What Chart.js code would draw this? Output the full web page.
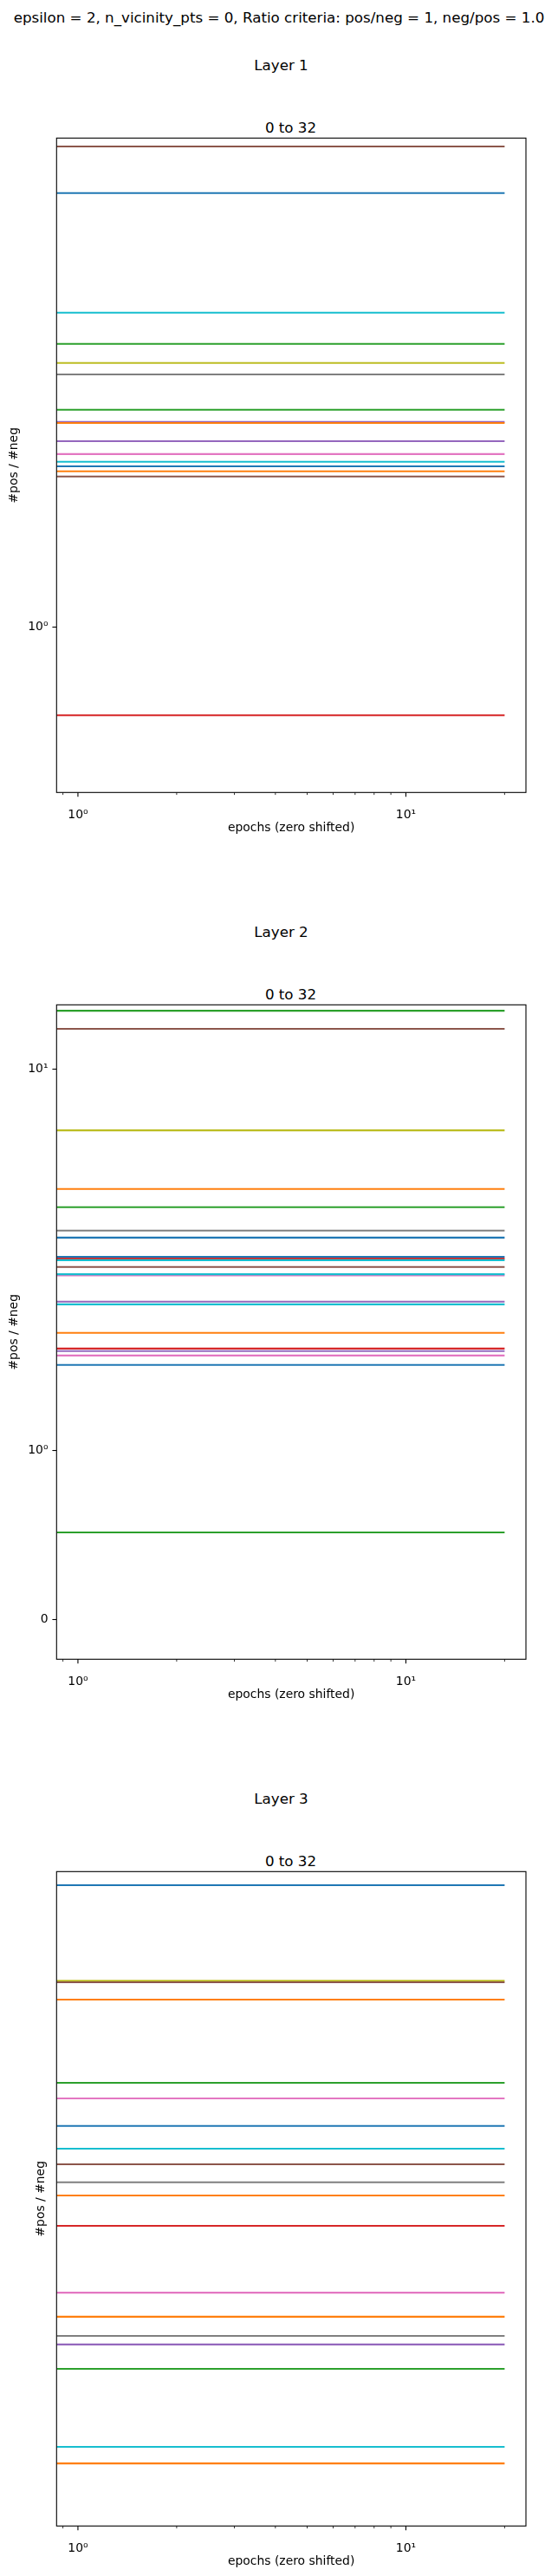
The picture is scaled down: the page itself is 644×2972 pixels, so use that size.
<!DOCTYPE html>
<html>
<head>
<meta charset="utf-8">
<title>pos/neg ratio per layer</title>
<script src="https://cdn.jsdelivr.net/npm/chart.js@4.4.1/dist/chart.umd.min.js"></script>
<style>
  body { margin: 0; background: #fff; }
  #page { position: relative; width: 644px; height: 2972px; font-family: 'DejaVu Sans', sans-serif; color: #000; overflow: hidden; }
  .txt { position: absolute; text-align: center; font-size: 16.7px; line-height: 20px; white-space: nowrap; }
  canvas { position: absolute; left: 0; }
</style>
</head>
<body>
<div id="page">
  <div class="txt" style="left:0;width:644px;top:10px">epsilon = 2, n_vicinity_pts = 0, Ratio criteria: pos/neg = 1, neg/pos = 1.0</div>
</div>
<script>
// every ratio stays flat over training, so a line runs from the first to the last epoch
const epochSpan = [0, 20];

const layerNames = ['Layer 1', 'Layer 2', 'Layer 3'];
const rangeName = '0 to 32';

const layer1Ratios = [5.72, 4.564, 2.556, 2.197, 2.003, 1.958, 1.824, 1.778, 1.774, 1.705,
                      1.656, 1.627, 1.610, 1.591, 1.571, 0.6667];
const layer2Ratios = [15.60, 13.59, 6.30, 4.04, 3.52, 2.947, 2.795, 2.414, 2.382, 2.356,
                      2.236, 2.099, 2.117, 1.882, 1.866, 1.697, 1.604, 1.589, 1.563, 1.507, 0.515];
const layer3Ratios = [8.812, 5.926, 5.890, 5.481, 3.880, 3.637, 3.245, 2.952, 2.767, 2.568,
                      2.431, 2.143, 1.837, 1.759, 1.697, 1.669, 1.590, 1.337, 1.283];

// axis limits of each panel (symlog y)
const layerYMin = [0.3742, -0.2365, 1.08];
const layerYMax = [5.957, 16.31, 9.325];

const xTickValues = [0.9, 1, 2, 3, 4, 5, 6, 7, 8, 9, 10, 20];
const xTickLabels = ['', '10\u2070', '', '', '', '', '', '', '', '', '10\u00b9', ''];
const yTickValues = [0, 1, 10];
const yTickLabels = ['0', '10\u2070', '10\u00b9'];

// matplotlib tab10
const BLUE = '#1f77b4', ORANGE = '#ff7f0e', GREEN = '#2ca02c', RED = '#d62728', PURPLE = '#9467bd',
      BROWN = '#8c564b', PINK = '#e377c2', GRAY = '#7f7f7f', OLIVE = '#bcbd22', CYAN = '#17becf';

const layer1Colors = [BROWN, BLUE, CYAN, GREEN, OLIVE, GRAY, GREEN, PURPLE, ORANGE, PURPLE,
                      PINK, CYAN, BLUE, ORANGE, BROWN, RED];
const layer2Colors = [GREEN, BROWN, OLIVE, ORANGE, GREEN, GRAY, BLUE, BLUE, RED, CYAN,
                      BROWN, PINK, CYAN, PURPLE, CYAN, ORANGE, RED, PURPLE, PINK, BLUE, GREEN];
const layer3Colors = [BLUE, OLIVE, BROWN, ORANGE, GREEN, PINK, BLUE, CYAN, BROWN, GRAY,
                      ORANGE, RED, PINK, ORANGE, GRAY, PURPLE, GREEN, CYAN, ORANGE];

const layerRatios = [layer1Ratios, layer2Ratios, layer3Ratios];
const layerColors = [layer1Colors, layer2Colors, layer3Colors];

// symlog like matplotlib: linthresh 2, linscale 1, base 10
const LINTHRESH = 2;
const LINSCALE = 1 / (1 - 1 / 10);

function symlog(v) {
    const a = Math.abs(v);
    if (a <= LINTHRESH) return v * LINSCALE;
    return Math.sign(v) * LINTHRESH * (LINSCALE + Math.log10(a / LINTHRESH));
}

function symexp(t) {
    const a = Math.abs(t);
    if (a <= LINTHRESH * LINSCALE) return t / LINSCALE;
    return Math.sign(t) * LINTHRESH * Math.pow(10, a / LINTHRESH - LINSCALE);
}

class SymlogScale extends Chart.LinearScale {
    buildTicks() {
        return yTickValues.filter(v => v >= this.min && v <= this.max).map(v => ({ value: v }));
    }
    configure() {
        super.configure();
        this._tStart = symlog(this.min);
        this._tRange = symlog(this.max) - this._tStart;
    }
    getPixelForValue(value) {
        return this.getPixelForDecimal((symlog(value) - this._tStart) / this._tRange);
    }
    getValueForPixel(pixel) {
        return symexp(this._tStart + this.getDecimalForPixel(pixel) * this._tRange);
    }
}
SymlogScale.id = 'symlog';
SymlogScale.defaults = Chart.LinearScale.defaults;
Chart.register(SymlogScale);

// axes box + log x tick marks (major / minor)
const framePlugin = {
    id: 'frame',
    afterDraw(chart) {
        const { ctx, chartArea: a, scales: { x } } = chart;
        ctx.save();
        ctx.strokeStyle = '#000';
        x.ticks.forEach(t => {
            const px = x.getPixelForValue(t.value);
            ctx.lineWidth = t.major ? 1.1 : 0.8;
            ctx.beginPath();
            ctx.moveTo(px, a.bottom);
            ctx.lineTo(px, a.bottom + (t.major ? 4.9 : 2.8));
            ctx.stroke();
        });
        ctx.lineWidth = 1.1;
        ctx.strokeRect(a.left, a.top, a.right - a.left, a.bottom - a.top);
        ctx.restore();
    }
};

Chart.defaults.font.family = "'DejaVu Sans', sans-serif";
Chart.defaults.color = '#000';

const page = document.getElementById('page');

function addText(str, left, width, top) {
    const d = document.createElement('div');
    d.className = 'txt';
    d.style.left = left + 'px';
    d.style.width = width + 'px';
    d.style.top = top + 'px';
    d.textContent = str;
    page.appendChild(d);
}

layerNames.forEach((name, li) => {
    const off = 1000 * li;
    addText(name, 0, 649, 64.5 + off);
    addText(rangeName, 65.3, 540.4, 136.9 + off);

    const canvas = document.createElement('canvas');
    canvas.width = 644;
    canvas.height = 850;
    canvas.style.top = (130 + off) + 'px';
    page.appendChild(canvas);

    const ratios = layerRatios[li];
    const colors = layerColors[li];

    new Chart(canvas, {
        type: 'line',
        data: {
            datasets: ratios.map((v, i) => ({
                data: epochSpan.map(e => ({ x: e, y: v })),
                borderColor: colors[i],
                borderWidth: 2.1,
                pointRadius: 0,
                order: -i
            }))
        },
        options: {
            responsive: false,
            animation: false,
            events: [],
            layout: { padding: { top: 29.3, right: 37, bottom: 0, left: 0 } },
            plugins: { legend: { display: false }, tooltip: { enabled: false } },
            scales: {
                x: {
                    type: 'logarithmic',
                    min: 0.8608,
                    max: 23.23,
                    bounds: 'data',
                    grid: { display: false },
                    border: { display: false },
                    afterBuildTicks: s => {
                        s.ticks = xTickValues.map((v, i) => ({ value: v, major: xTickLabels[i] !== '' }));
                    },
                    afterFit: s => { s.height = 65.7; },
                    ticks: {
                        autoSkip: false,
                        maxRotation: 0,
                        padding: 9.8,
                        font: { size: 13.9 },
                        callback: (v, i) => xTickLabels[i]
                    },
                    title: {
                        display: true,
                        text: 'epochs (zero shifted)',
                        font: { size: 13.9 },
                        padding: { top: 0, bottom: 16.65 }
                    }
                },
                y: {
                    type: 'symlog',
                    min: layerYMin[li],
                    max: layerYMax[li],
                    grid: {
                        display: true,
                        drawOnChartArea: false,
                        drawTicks: true,
                        tickLength: 4.9,
                        tickColor: '#000',
                        tickWidth: 1.1
                    },
                    border: { display: false },
                    afterFit: s => { s.width = 65.3; },
                    ticks: {
                        padding: 4.9,
                        font: { size: 13.9 },
                        callback: v => yTickLabels[yTickValues.indexOf(v)]
                    },
                    title: {
                        display: true,
                        text: '#pos / #neg',
                        font: { size: 13.9 },
                        padding: { top: li === 2 ? 39 : 8.5, bottom: 0 }
                    }
                }
            }
        },
        plugins: [framePlugin]
    });
});
</script>
</body>
</html>
